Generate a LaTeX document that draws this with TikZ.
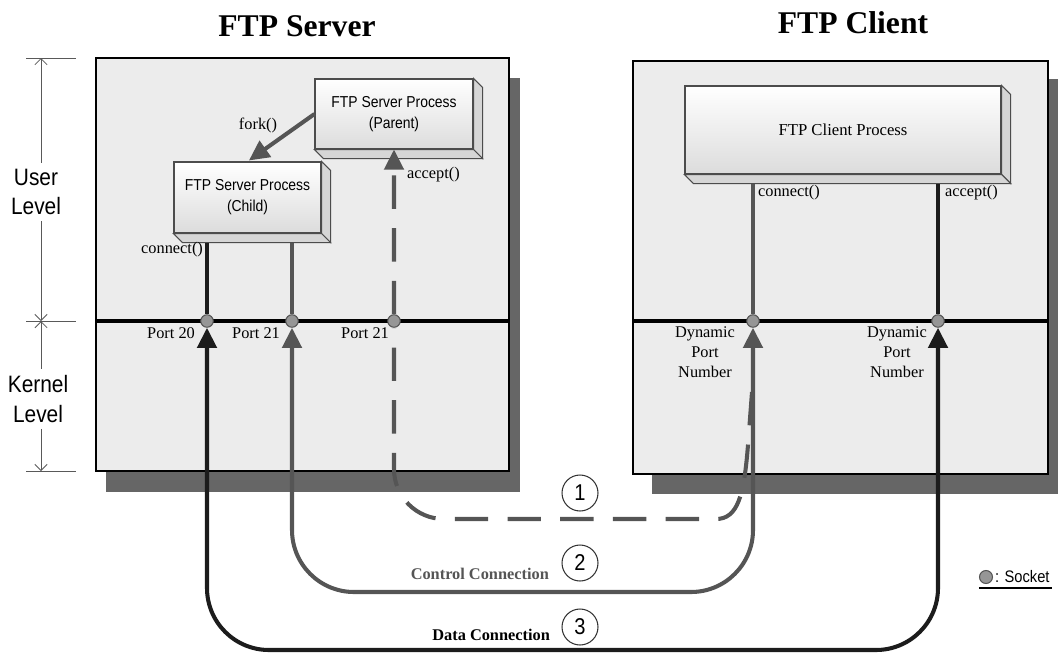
\documentclass[tikz,border=0pt]{standalone}
\usepackage{fontspec}
\setmainfont{Liberation Serif}
\newfontfamily\condsans[FakeStretch=0.88]{Liberation Sans}
\usetikzlibrary{positioning,arrows.meta}
\tikzstyle{canvas} = [x = 0.02cm, y = -0.02cm]
\definecolor{panelColor}{RGB}{236,236,236}
\definecolor{shadowColor}{RGB}{102,102,102}
\definecolor{lineDark}{RGB}{28,28,28}
\definecolor{lineGray}{RGB}{85,85,85}
\definecolor{socketColor}{RGB}{150,150,150}
\definecolor{faceBottom}{RGB}{220,220,220}
\definecolor{sideColor}{RGB}{214,214,214}
\tikzstyle{panelStyle} = [draw=black, fill=panelColor, line width=0.9pt]
\tikzstyle{panelShadow} = [fill=shadowColor]
\tikzstyle{dividerLine} = [draw=black, line width=2.3pt]
\tikzstyle{processFace} = [draw=black!70, top color=white, bottom color=faceBottom, line width=0.6pt, inner sep=0pt, align=center]
\tikzstyle{sideFace} = [draw=black!70, fill=sideColor, line width=0.6pt]
\tikzstyle{socket} = [circle, draw=lineGray, fill=socketColor, line width=0.6pt, minimum size=0.25cm, inner sep=0pt]
\tikzstyle{darkLine} = [draw=lineDark, line width=2.3pt]
\tikzstyle{grayLine} = [draw=lineGray, line width=2.3pt]
\tikzstyle{dashLine} = [draw=lineGray, line width=2.3pt, dash pattern=on 19pt off 11pt]
\tikzstyle{endArrow} = [-{Triangle[width=11pt, length=11.5pt]}]
\tikzstyle{bothArrow} = [{Triangle[width=11pt, length=11.5pt]}-{Triangle[width=11pt, length=11.5pt]}]
\tikzstyle{dimLine} = [draw=black!65, line width=0.5pt]
\tikzstyle{dimTipEnd} = [-{Straight Barb[length=3.5pt, width=7pt]}]
\tikzstyle{dimTipStart} = [{Straight Barb[length=3.5pt, width=7pt]}-]
\tikzstyle{callLabel} = [font=\fontsize{9.3}{11.3}\selectfont, inner sep=1pt]
\tikzstyle{procText} = [font=\condsans\fontsize{9}{12}\selectfont]
\tikzstyle{levelText} = [font=\condsans\fontsize{13.5}{17}\selectfont, align=center]
\tikzstyle{titleText} = [font=\bfseries\fontsize{18}{21}\selectfont]
\tikzstyle{connText} = [font=\bfseries\fontsize{9.3}{11}\selectfont, inner sep=1pt]
\tikzstyle{numCircle} = [circle, draw=black!80, line width=0.6pt, minimum size=0.72cm, inner sep=0pt, font=\condsans\fontsize{13}{14}\selectfont]
\tikzstyle{legendText} = [font=\condsans\fontsize{9.5}{11}\selectfont, inner sep=1pt]
\tikzset{faceSize/.style 2 args={minimum width=#1*0.02cm, minimum height=#2*0.02cm}}
\newcommand{\extrude}{9}
\newcommand{\processBox}[5]{
  \node [processFace, #4] (#1) at (#2, #3) {#5};
  \filldraw [sideFace] (#1.north east) -- ++(\extrude, \extrude) -- ([shift={(\extrude, \extrude)}]#1.south east) -- (#1.south east) -- cycle;
  \filldraw [sideFace] (#1.south west) -- ++(\extrude, \extrude) -- ([shift={(\extrude, \extrude)}]#1.south east) -- (#1.south east) -- cycle;
  \coordinate (#1Base) at ([shift={(0, \extrude)}]#1.south);
}

\begin{document}
\begin{tikzpicture}[canvas]
          \useasboundingbox (0,0) rectangle (1058,653);

          % panels
          \fill [panelShadow] (106,78) rectangle (520,492);
          \filldraw [panelStyle] (96,58) rectangle (509,471);
          \draw [dividerLine] (96,321) -- (509,321);
          \fill [panelShadow] (652,79) rectangle (1060,494);
          \filldraw [panelStyle] (633,61) rectangle (1048,474);
          \draw [dividerLine] (633,321) -- (1048,321);

          \node [titleText] (serverTitle) at (297,26) {FTP Server};
          \node [titleText] (clientTitle) at (853,23) {FTP Client};

          % levels
          \coordinate (dimTop) at (41,58);
          \coordinate (dimMid) at (41,321);
          \coordinate (dimBot) at (41,471);
          \foreach \tickY in {58,321,471} {
            \draw [dimLine] (26,\tickY) -- (76,\tickY);
          }
          \node [levelText] (userLvl) at (36,192) {User\\Level};
          \node [levelText] (kernelLvl) at (38,399) {Kernel\\Level};
          \draw [dimLine, dimTipStart] (dimTop) -- (userLvl.north -| dimTop);
          \draw [dimLine, dimTipEnd] (userLvl.south -| dimTop) -- (dimMid);
          \draw [dimLine, dimTipStart] (dimMid) -- (kernelLvl.north -| dimTop);
          \draw [dimLine, dimTipEnd] (kernelLvl.south -| dimTop) -- (dimBot);

          % processes
          \processBox{parent}{394}{114}{faceSize={158}{70}, procText}{FTP Server Process\\(Parent)}
          \processBox{child}{247.5}{197.5}{faceSize={147}{71}, procText}{FTP Server Process\\(Child)}
          \processBox{client}{843}{130}{faceSize={316}{88}, font=\fontsize{9.5}{12}\selectfont}{FTP Client Process}

          % sockets
          \node [socket] (s20) at (207,321) {};
          \node [socket] (s21) at (292,321) {};
          \node [socket] (s21p) at (394,321) {};
          \node [socket] (cc) at (753,321) {};
          \node [socket] (ca) at (938,321) {};

          \draw [grayLine, endArrow, shorten >=1pt] (parent.west) -- (child.north);
          \node [callLabel] (forkLbl) at (258,125) {fork()};

          \draw [darkLine] (s20) -- (s20 |- childBase);
          \draw [grayLine] (s21) -- (s21 |- childBase);
          \draw [grayLine] (cc) -- (cc |- clientBase);
          \draw [darkLine] (ca) -- (ca |- clientBase);

          % connections
          \coordinate (dashMerge) at (752,392);
          \draw [dashLine, endArrow] (dashMerge) -- (748,445) .. controls (744,495) and (738,519) .. (716,519) [rounded corners=1cm] -- (s21p |- 0,519) -- (s21p) -- (s21p |- parent.south);
          \draw [grayLine, bothArrow, rounded corners=1.24cm] (cc) -- (cc |- 0,592) -- (s21 |- 0,592) -- (s21);
          \draw [darkLine, bothArrow, rounded corners=1.24cm] (ca) -- (ca |- 0,650) -- (s20 |- 0,650) -- (s20);

          % labels
          \node [callLabel, anchor=east] (connLblS) at (205,250) {connect()};
          \node [callLabel, anchor=west] (accLblS) at (405,175) {accept()};
          \node [callLabel, anchor=west] (connLblC) at (756,193) {connect()};
          \node [callLabel, anchor=west] (accLblC) at (943,193) {accept()};
          \node [callLabel, anchor=east] (p20Lbl) at (197,333) {Port 20};
          \node [callLabel, anchor=east] (p21Lbl) at (282,333) {Port 21};
          \node [callLabel, anchor=east] (p21pLbl) at (391,333) {Port 21};
          \node [callLabel, align=center] (dynC) at (705,352) {Dynamic\\Port\\Number};
          \node [callLabel, align=center] (dynA) at (897,352) {Dynamic\\Port\\Number};

          \node [numCircle] (n1) at (580,493) {1};
          \node [numCircle] (n2) at (580,563) {2};
          \node [numCircle] (n3) at (580,627) {3};
          \node [connText, text=lineGray, anchor=east] (ctrlLbl) at (551,574) {Control Connection};
          \node [connText, anchor=east] (dataLbl) at (552,635) {Data Connection};

          % legend
          \node [socket, minimum size=0.26cm] (legendDot) at (986,577) {};
          \node [legendText, anchor=west] (legendLbl) at (legendDot.east) {: Socket};
          \draw [line width=0.6pt] (legendDot.west |- 0,588) -- (legendLbl.east |- 0,588);
        \end{tikzpicture}
\end{document}
